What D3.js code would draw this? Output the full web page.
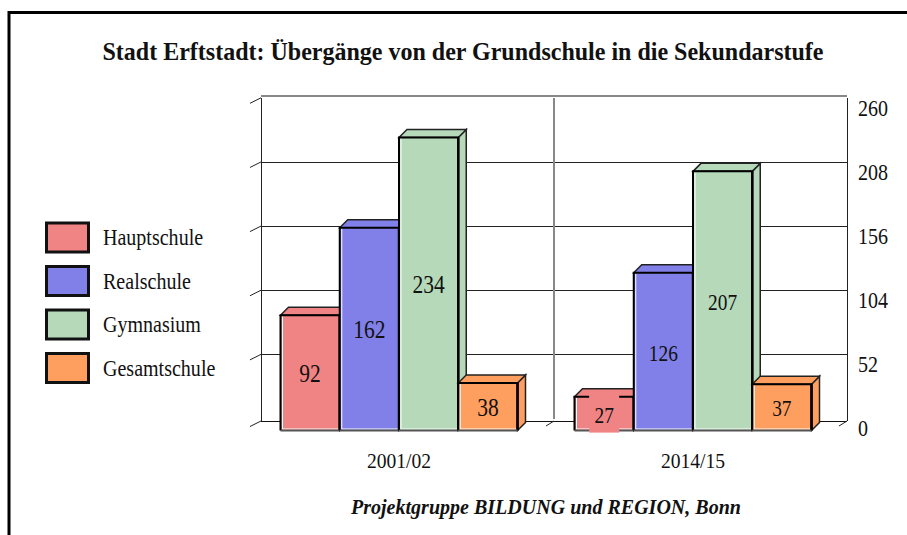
<!DOCTYPE html>
<html>
<head>
<meta charset="utf-8">
<script src="https://cdn.jsdelivr.net/npm/d3@7"></script>
<style>
  body { margin: 0; background: #fff; }
  text { font-family: "Liberation Serif", serif; fill: #111; }
</style>
</head>
<body>
<svg width="907" height="535"></svg>
<script>
const title = "Stadt Erftstadt: Übergänge von der Grundschule in die Sekundarstufe";
const credit = "Projektgruppe BILDUNG und REGION, Bonn";
const years = ["2001/02", "2014/15"];
const schools = ["Hauptschule", "Realschule", "Gymnasium", "Gesamtschule"];
const colors = ["#f08484", "#8080e8", "#b5d9b9", "#ff9f5f"];
const values2001 = [92, 162, 234, 38];
const values2014 = [27, 126, 207, 37];
const tickValues = [0, 52, 104, 156, 208, 260];

const svg = d3.select("svg");
const depth = 8;

// front plane of the bars, the wall sits a bit up and to the right
const x = d3.scaleBand().domain(years).range([252, 840]);
const xBar = d3.scaleBand().domain(schools).range([-118.5, 118.5]);
const y = d3.scaleLinear().domain([0, 260]).range([430.5, 105]);
const yGrid = d3.scaleLinear().domain([0, 260]).range([418.5, 97.8]);
const yLabel = d3.scaleLinear().domain([0, 260]).range([428.5, 108]);
const labelSize = [25, 22.5];

// the original type is narrower than the font, so squeeze it sideways
function condense(sel, factor) {
    sel.each(function() {
        const len = this.getComputedTextLength() * factor;
        d3.select(this).attr("textLength", len).attr("lengthAdjust", "spacingAndGlyphs");
    });
}

// frame, open on the right and at the bottom
svg.append("path")
    .attr("d", "M9,535V12.5H907")
    .attr("fill", "none")
    .attr("stroke", "#000")
    .attr("stroke-width", 3);

svg.append("text")
    .attr("x", 463).attr("y", 60)
    .attr("text-anchor", "middle")
    .attr("font-size", 25)
    .attr("font-weight", "bold")
    .text(title)
    .call(condense, 0.96);

svg.append("text")
    .attr("x", 546).attr("y", 514)
    .attr("text-anchor", "middle")
    .attr("font-size", 22)
    .attr("font-weight", "bold")
    .attr("font-style", "italic")
    .text(credit)
    .call(condense, 0.91);

// walls
const left = 261, right = 847, mid = 554, wallTop = 96, floor = 421;

svg.selectAll(".grid")
    .data(tickValues.slice(1, -1))
    .enter().append("line")
    .attr("x1", left).attr("x2", right)
    .attr("y1", d => Math.round(yGrid(d)) + 0.5).attr("y2", d => Math.round(yGrid(d)) + 0.5)
    .attr("stroke", "#222");

svg.append("line").attr("x1", left).attr("x2", right)
    .attr("y1", wallTop).attr("y2", wallTop)
    .attr("stroke", "#888").attr("stroke-width", 2);
svg.append("line").attr("x1", left).attr("x2", right)
    .attr("y1", floor + 0.5).attr("y2", floor + 0.5)
    .attr("stroke", "#111");
svg.append("line").attr("x1", left + 0.5).attr("x2", left + 0.5)
    .attr("y1", wallTop + 2).attr("y2", floor)
    .attr("stroke", "#222");
svg.append("line").attr("x1", right + 0.5).attr("x2", right + 0.5)
    .attr("y1", wallTop + 2).attr("y2", floor)
    .attr("stroke", "#222");
svg.append("line").attr("x1", mid).attr("x2", mid)
    .attr("y1", wallTop + 2).attr("y2", floor - 2)
    .attr("stroke", "#888").attr("stroke-width", 2);

// slanted ticks left of the wall and on the floor
svg.selectAll(".tick-left")
    .data(tickValues)
    .enter().append("line")
    .attr("x1", left - 11).attr("x2", left)
    .attr("y1", d => (d === 0 ? floor : yGrid(d)) + 5.5)
    .attr("y2", d => (d === 0 ? floor : yGrid(d)))
    .attr("stroke", "#222");
svg.selectAll(".tick-floor")
    .data([mid, right])
    .enter().append("line")
    .attr("x1", d => d - 8).attr("x2", d => d)
    .attr("y1", floor + 5).attr("y2", floor)
    .attr("stroke", "#222");

// value axis, only the labels are left of it
const axis = svg.append("g")
    .attr("transform", "translate(851,0)")
    .call(d3.axisRight(yLabel).tickValues(tickValues).tickSize(0).tickPadding(7));
axis.select(".domain").remove();
axis.selectAll("text")
    .attr("font-size", 22.5)
    .attr("font-family", "Liberation Serif")
    .attr("fill", "#111")
    .call(condense, 0.89);

// category labels
svg.selectAll(".year")
    .data(years)
    .enter().append("text")
    .attr("x", d => x(d) + x.bandwidth() / 2)
    .attr("y", 468)
    .attr("text-anchor", "middle")
    .attr("font-size", 22)
    .text(d => d)
    .call(condense, 0.89);

// bars
const groups = svg.selectAll(".group")
    .data([values2001, values2014])
    .enter().append("g")
    .attr("transform", (d, i) => "translate(" + (x(years[i]) + x.bandwidth() / 2) + ",0)");

const bars = groups.selectAll(".bar")
    .data((vals, g) => vals.map((v, i) => ({ v: v, school: schools[i], color: colors[i], size: labelSize[g] })))
    .enter().append("g");

const w = xBar.bandwidth();

// side face
bars.append("path")
    .attr("d", d => {
        const x1 = xBar(d.school) + w, t = y(d.v), b = y(0);
        return `M${x1},${t}l${depth},${-depth}V${b - depth}l${-depth},${depth}Z`;
    })
    .attr("fill", d => d.color)
    .attr("stroke", "#222")
    .attr("stroke-width", 1.5);
// top face
bars.append("path")
    .attr("d", d => {
        const x0 = xBar(d.school), t = y(d.v);
        return `M${x0},${t}l${depth},${-depth}h${w}l${-depth},${depth}Z`;
    })
    .attr("fill", d => d.color)
    .attr("stroke", "#222")
    .attr("stroke-width", 1.5);
// front face
bars.append("rect")
    .attr("x", d => xBar(d.school))
    .attr("y", d => y(d.v))
    .attr("width", w)
    .attr("height", d => y(0) - y(d.v))
    .attr("fill", d => d.color);
// light inner rim on the left and at the bottom
bars.append("path")
    .attr("d", d => {
        const x0 = xBar(d.school) + 2, t = y(d.v) + 1, b = y(0) - 1.5;
        return `M${x0},${t}V${b}H${x0 + w - 3}`;
    })
    .attr("fill", "none")
    .attr("stroke", "#fff")
    .attr("stroke-width", 1);
bars.append("path")
    .attr("d", d => {
        const x0 = xBar(d.school), t = y(d.v), b = y(0);
        return `M${x0},${b}V${t}H${x0 + w}V${b}`;
    })
    .attr("fill", "none")
    .attr("stroke", "#000")
    .attr("stroke-width", 2);
bars.append("line")
    .attr("x1", d => xBar(d.school) + w).attr("x2", d => xBar(d.school) + w)
    .attr("y1", d => y(d.v)).attr("y2", y(0))
    .attr("stroke", "#000").attr("stroke-width", 2.5);
bars.append("line")
    .attr("x1", d => xBar(d.school)).attr("x2", d => xBar(d.school) + w)
    .attr("y1", y(0)).attr("y2", y(0))
    .attr("stroke", "#555").attr("stroke-width", 2);

// value labels, each sits on its own patch of bar colour
bars.append("rect")
    .attr("x", d => xBar(d.school) + w / 2 - 15)
    .attr("y", d => (y(d.v) + y(0)) / 2 - 19)
    .attr("width", 30)
    .attr("height", 38)
    .attr("fill", d => d.color);
bars.append("text")
    .attr("x", d => xBar(d.school) + w / 2)
    .attr("y", d => (y(d.v) + y(0)) / 2 + 9)
    .attr("text-anchor", "middle")
    .attr("font-size", d => d.size)
    .text(d => d.v)
    .call(condense, 0.86);

// legend
const legendY = d3.scalePoint().domain(schools).range([237, 367.5]);
const legend = svg.selectAll(".legend")
    .data(schools)
    .enter().append("g")
    .attr("transform", d => "translate(0," + legendY(d) + ")");
legend.append("rect")
    .attr("x", 46.5).attr("y", -14)
    .attr("width", 42).attr("height", 29)
    .attr("fill", (d, i) => colors[i])
    .attr("stroke", "#111")
    .attr("stroke-width", 3);
legend.append("text")
    .attr("x", 103).attr("y", 8)
    .attr("font-size", 22.5)
    .text(d => d)
    .call(condense, 0.89);
</script>
</body>
</html>
